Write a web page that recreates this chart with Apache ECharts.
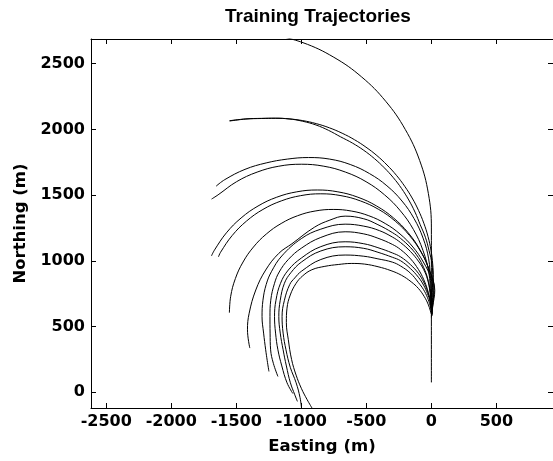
<!DOCTYPE html>
<html>
<head>
<meta charset="utf-8">
<title>Training Trajectories</title>
<script src="https://cdn.jsdelivr.net/npm/echarts@6.0.0/dist/echarts.min.js"></script>
<style>
  html, body { margin: 0; padding: 0; background: #fff; }
  #main { width: 553px; height: 461px; }
</style>
</head>
<body>
<div id="main"></div>
<script>
// tick labels
var eastTicks = [-2500, -2000, -1500, -1000, -500, 0, 500];
var northTicks = [0, 500, 1000, 1500, 2000, 2500];

// trajectories, [easting, northing] in m
var trackA = [[0,75],[0,500],[0,900],[0,1250],[-23,1511],[-90,1763],[-201,2000],[-351,2214],[-536,2399],[-750,2549],[-987,2660],[-1239,2727]];
var trackB1 = [[2,600],[10,720],[15,870],[10,976],[-3,1081],[-26,1185],[-58,1286],[-99,1384],[-148,1478],[-205,1567],[-269,1651],[-341,1729],[-419,1801],[-503,1865],[-592,1922],[-686,1971],[-784,2012],[-885,2044],[-989,2067],[-1094,2080],[-1200,2085],[-1306,2084],[-1426,2080],[-1553,2066]];
var trackB2 = [[0,600],[5,720],[10,870],[5,975],[-18,1078],[-46,1179],[-86,1275],[-126,1371],[-174,1463],[-229,1550],[-292,1632],[-362,1708],[-438,1778],[-520,1841],[-607,1896],[-699,1944],[-791,1993],[-888,2034],[-990,2062],[-1094,2080],[-1200,2085],[-1306,2083],[-1426,2079],[-1550,2064]];
var trackC = [[0,600],[2,720],[-7,852],[-21,1015],[-64,1173],[-133,1321],[-226,1455],[-342,1571],[-476,1664],[-624,1733],[-782,1774],[-945,1786],[-1108,1774],[-1270,1745],[-1433,1696],[-1588,1618],[-1655,1568]];
var trackD = [[2,590],[0,640],[-5,740],[-20,913],[-65,1080],[-138,1238],[-238,1380],[-360,1502],[-502,1602],[-660,1675],[-827,1720],[-1000,1735],[-1173,1720],[-1340,1675],[-1498,1602],[-1640,1502],[-1690,1470]];
var trackE = [[0,570],[8,660],[21,785],[-20,939],[-87,1083],[-178,1213],[-291,1326],[-421,1417],[-565,1484],[-719,1525],[-877,1539],[-1035,1525],[-1189,1484],[-1333,1417],[-1463,1326],[-1576,1213],[-1667,1083],[-1691,1037]];
var trackF = [[2,580],[10,650],[26,775],[-14,924],[-79,1065],[-168,1192],[-278,1302],[-405,1391],[-546,1456],[-695,1496],[-850,1510],[-1005,1496],[-1154,1456],[-1295,1391],[-1422,1302],[-1532,1192],[-1621,1065],[-1637,1030]];
var trackG = [[0,580],[8,640],[15,740],[-3,865],[-62,991],[-142,1105],[-241,1204],[-355,1284],[-481,1343],[-616,1379],[-755,1391],[-894,1379],[-1029,1343],[-1155,1284],[-1269,1204],[-1368,1105],[-1448,991],[-1507,865],[-1543,730],[-1553,605]];
var trackH = [[2,580],[0,660],[-10,770],[-30,870],[-60,950],[-100,1025],[-160,1100],[-236,1170],[-300,1215],[-411,1275],[-520,1320],[-663,1340],[-780,1310],[-900,1255],[-1072,1130],[-1173,1057],[-1274,930],[-1350,778],[-1401,601],[-1414,475],[-1396,336]];
var trackI = [[3,590],[0,650],[-10,760],[-30,860],[-60,935],[-100,998],[-160,1070],[-236,1138],[-300,1181],[-400,1230],[-520,1264],[-663,1279],[-850,1241],[-1000,1169],[-1150,1037],[-1230,917],[-1270,820],[-1295,700],[-1302,576],[-1290,450],[-1274,323],[-1262,240],[-1249,158]];
var trackJ = [[4,600],[0,640],[-10,700],[-30,780],[-60,860],[-100,935],[-160,1015],[-236,1085],[-300,1125],[-411,1172],[-520,1205],[-663,1221],[-850,1178],[-1000,1096],[-1100,1010],[-1170,915],[-1206,829],[-1235,700],[-1241,576],[-1240,450],[-1236,323],[-1215,220],[-1180,120]];
var trackK = [[3,590],[0,630],[-10,700],[-30,770],[-60,840],[-100,905],[-160,970],[-236,1030],[-300,1060],[-411,1100],[-520,1130],[-663,1145],[-850,1108],[-1000,1021],[-1100,930],[-1160,829],[-1195,700],[-1206,576],[-1198,450],[-1180,323],[-1150,200],[-1110,72],[-1065,-10]];
var trackK2 = [[5,595],[0,625],[-10,690],[-30,750],[-60,815],[-100,875],[-160,940],[-236,1000],[-300,1027],[-411,1065],[-520,1095],[-663,1107],[-850,1075],[-1000,990],[-1080,910],[-1130,829],[-1162,700],[-1173,576],[-1162,450],[-1140,323],[-1115,200],[-1084,72],[-1050,-20],[-1030,-70]];
var trackL = [[2,580],[0,610],[-10,660],[-30,720],[-60,780],[-100,835],[-160,905],[-236,960],[-300,990],[-411,1015],[-520,1035],[-663,1044],[-850,1010],[-1000,920],[-1050,870],[-1089,820],[-1130,700],[-1148,576],[-1140,450],[-1118,323],[-1085,190],[-1040,72],[-1010,-40],[-998,-125]];
var trackM = [[3,585],[-8,620],[-25,670],[-56,730],[-100,790],[-155,840],[-230,890],[-310,925],[-410,955],[-513,975],[-616,980],[-716,972],[-819,958],[-919,932],[-990,885],[-1040,829],[-1085,740],[-1110,640],[-1115,530],[-1100,400],[-1075,250],[-1040,130],[-1000,30],[-955,-57],[-915,-125]];

var tracks = [trackA, trackB1, trackB2, trackC, trackD, trackE, trackF, trackG,
              trackH, trackI, trackJ, trackK, trackK2, trackL, trackM];

var myChart = echarts.init(document.getElementById('main'));

var font = 'DejaVu Sans';
var plain = function (v) { return String(v); };

// one side of the box: line plus inward ticks
function frameAxis(pos, ticks, lo, hi, extra) {
    var ax = {
        type: 'value',
        position: pos,
        min: lo,
        max: hi,
        axisLine: { show: true, onZero: false, lineStyle: { color: '#000', width: 1 } },
        axisTick: { show: true, inside: true, length: 5, customValues: ticks, lineStyle: { color: '#000', width: 1 } },
        axisLabel: { show: false },
        splitLine: { show: false }
    };
    for (var k in extra) ax[k] = extra[k];
    return ax;
}

var option = {
    backgroundColor: '#fff',
    animation: false,
    title: {
        text: 'Training Trajectories',
        left: 225,
        top: 7,
        padding: 0,
        textStyle: { fontFamily: 'Liberation Sans', fontWeight: 'bold', fontSize: 19, color: '#000' }
    },
    grid: { left: 91, right: -3, top: 39, bottom: 53 },
    xAxis: [
        frameAxis('bottom', eastTicks, -2617, 935, {
            axisLabel: { show: true, customValues: eastTicks, formatter: plain, margin: 6,
                         color: '#000', fontFamily: font, fontWeight: 'bold', fontSize: 16 },
            name: 'Easting (m)',
            nameLocation: 'middle',
            nameGap: 30,
            nameTextStyle: { fontFamily: font, fontWeight: 'bold', fontSize: 16.5, color: '#000' }
        }),
        frameAxis('top', eastTicks, -2617, 935, {})
    ],
    yAxis: [
        frameAxis('left', northTicks, -120, 2688, {
            axisLabel: { show: true, customValues: northTicks, formatter: plain, margin: 6,
                         color: '#000', fontFamily: font, fontWeight: 'bold', fontSize: 16 },
            name: 'Northing (m)',
            nameLocation: 'middle',
            nameGap: 62,
            nameTextStyle: { fontFamily: font, fontWeight: 'bold', fontSize: 16.5, color: '#000' }
        }),
        frameAxis('right', northTicks, -120, 2688, {})
    ],
    series: tracks.map(function (t) {
        return {
            type: 'line',
            data: t,
            xAxisIndex: 0,
            yAxisIndex: 0,
            showSymbol: false,
            symbol: 'none',
            smooth: 0.4,
            clip: true,
            silent: true,
            lineStyle: { color: '#000', width: 1 }
        };
    })
};

myChart.setOption(option);
</script>
</body>
</html>
